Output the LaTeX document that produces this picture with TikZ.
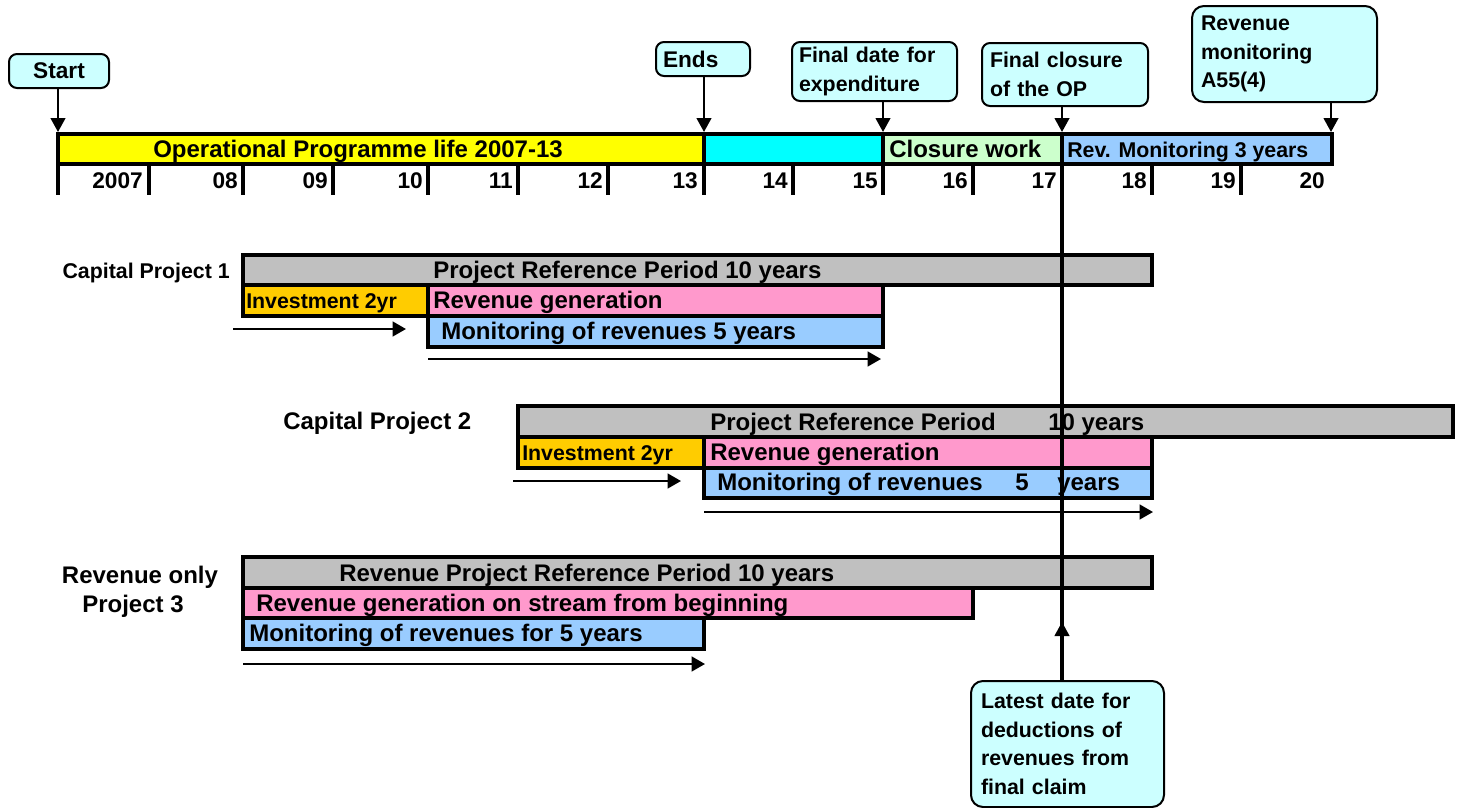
\documentclass[tikz,border=0pt]{standalone}
\usepackage{fontspec}
\setmainfont{Liberation Sans}
\usetikzlibrary{arrows.meta}
\definecolor{opyellow}{HTML}{FFFF00}
\definecolor{opcyan}{HTML}{00FFFF}
\definecolor{opgreen}{HTML}{CCFFCC}
\definecolor{opblue}{HTML}{99CCFF}
\definecolor{opgrey}{HTML}{C0C0C0}
\definecolor{oporange}{HTML}{FFCC00}
\definecolor{oppink}{HTML}{FF99CC}
\definecolor{callfill}{HTML}{CCFFFF}
\newcommand\myfbig{\fontsize{18}{21.6}\selectfont\bfseries}
\newcommand\myfmid{\fontsize{17}{21}\selectfont\bfseries}
\newcommand\myfsmall{\fontsize{16}{21.5}\selectfont\bfseries}
\begin{document}
\begin{tikzpicture}[x=0.75pt,y=-0.75pt,
  bar/.style={draw=black,line width=2.4pt},
  tickline/.style={draw=black,line width=2.4pt},
  txt/.style={inner sep=0pt,text=black},
  callout/.style={draw=black,line width=1.5pt,fill=callfill,rounded corners=6pt,
    anchor=north west,inner ysep=0pt,align=left,font=\myfsmall},
  arr/.style={line width=1.7pt,-{Triangle[length=10.5pt,width=11pt]}},
  smallarr/.style={line width=1.7pt,-{Triangle[length=10pt,width=11pt]}},
  longline/.style={line width=2.4pt}]
\useasboundingbox (0,0) rectangle (1463,807);

% ---------------- top programme bar ----------------
\draw[bar,fill=opyellow] (58,134) rectangle (704,164);
\draw[bar,fill=opcyan] (704,134) rectangle (883,164);
\draw[bar,fill=opgreen] (883,134) rectangle (1062,164);
\draw[bar,fill=opblue] (1062,134) rectangle (1332,164);
\node[txt,anchor=base west,font=\myfbig] (opl) at (153,157) {Operational Programme life 2007-13};
\node[txt,anchor=base west,font=\myfbig] (clw) at (889,157) {Closure work};
\node[txt,anchor=base west,font=\myfsmall] (rmt) at (1067,157) {Rev. Monitoring 3 years};

% year ticks
\foreach \t in {58,149,243,333,428,518,608,704,793,883,973,1152,1241}
  \draw[tickline] (\t,164) -- (\t,195);
% year labels
\foreach \xx/\lab in {143/2007,238/08,328/09,423/10,513/11,603/12,698/13,788/14,878/15,968/16,1057/17,1147/18,1236/19,1325/20}
  \node[txt,anchor=base east,font=\myfmid] at (\xx,188) {\lab};

% target coordinates on the bar
\coordinate (tStart) at (58,132);
\coordinate (tEnds) at (704,132);
\coordinate (tFinal) at (883,132);
\coordinate (tClose) at (1062,132);
\coordinate (tRev) at (1331,132);
\coordinate (tCloseBot) at (1062,163);
\coordinate (tLatest) at (1062,622);

% ---------------- callouts ----------------
\node[callout,align=center,font=\myfmid,text width=64.5pt,inner xsep=5.25pt,minimum height=25.5pt] (start) at (8,53) {Start};
\node[callout,font=\myfmid,text width=60pt,inner xsep=5.25pt,minimum height=25.5pt] (ends) at (655,41) {Ends};
\node[callout,text width=113.25pt,inner xsep=5.25pt,minimum height=44.25pt] (final) at (791,41) {Final date for\\expenditure};
\node[callout,text width=112.5pt,inner xsep=6pt,minimum height=47.25pt] (close) at (981,42) {Final closure\\of the OP};
\node[callout,rounded corners=9pt,text width=125.25pt,inner xsep=6.75pt,minimum height=72pt] (revmon) at (1191,5) {Revenue\\monitoring\\A55(4)};
\node[callout,rounded corners=9pt,text width=129.75pt,inner xsep=7.5pt,minimum height=94.5pt] (latest) at (970,680) {Latest date for\\deductions of\\revenues from\\final claim};

\draw[arr] (start.south -| tStart) -- (tStart);
\draw[arr] (ends.south -| tEnds) -- (tEnds);
\draw[arr] (final.south -| tFinal) -- (tFinal);
\draw[arr] (close.south -| tClose) -- (tClose);
\draw[arr] (revmon.south -| tRev) -- (tRev);

% ---------------- Capital Project 1 ----------------
\node[txt,anchor=base east,font=\myfsmall] (cp1) at (230,278) {Capital Project 1};
\draw[bar,fill=opgrey] (243,255) rectangle (1152,285);
\draw[bar,fill=oporange] (243,285) rectangle (428,316);
\draw[bar,fill=oppink] (428,285) rectangle (883,316);
\draw[bar,fill=opblue] (428,316) rectangle (883,347);
\node[txt,anchor=base west,font=\myfbig] (p1ref) at (433,278) {Project Reference Period 10 years};
\node[txt,anchor=base west,font=\myfsmall] (p1inv) at (246,308) {Investment 2yr};
\node[txt,anchor=base west,font=\myfbig] (p1gen) at (433,308) {Revenue generation};
\node[txt,anchor=base west,font=\myfbig] (p1mon) at (441,339) {Monitoring of revenues 5 years};
\coordinate (a1s) at (233,329); \coordinate (a1e) at (406,329);
\coordinate (a2s) at (428,359); \coordinate (a2e) at (881,359);
\draw[smallarr] (a1s) -- (a1e);
\draw[smallarr] (a2s) -- (a2e);

% ---------------- Capital Project 2 ----------------
\node[txt,anchor=base west,font=\myfbig] (cp2) at (283,429) {Capital Project 2};
\draw[bar,fill=opgrey] (518,406) rectangle (1453,437);
\draw[bar,fill=oporange] (518,437) rectangle (704,468);
\draw[bar,fill=oppink] (704,437) rectangle (1152,468);
\draw[bar,fill=opblue] (704,468) rectangle (1152,498);
\node[txt,anchor=base west,font=\myfbig] (p2ref) at (710,430) {Project Reference Period};
\node[txt,anchor=base west,font=\myfbig] (p2ten) at (1048,430) {10 years};
\node[txt,anchor=base west,font=\myfsmall] (p2inv) at (522,460) {Investment 2yr};
\node[txt,anchor=base west,font=\myfbig] (p2gen) at (710,460) {Revenue generation};
\node[txt,anchor=base west,font=\myfbig] (p2mon) at (717,490) {Monitoring of revenues};
\node[txt,anchor=base west,font=\myfbig] (p2five) at (1015,490) {5};
\node[txt,anchor=base west,font=\myfbig] (p2yrs) at (1057,490) {years};
\coordinate (b1s) at (513,481); \coordinate (b1e) at (681,481);
\coordinate (b2s) at (704,512); \coordinate (b2e) at (1153,512);
\draw[smallarr] (b1s) -- (b1e);
\draw[smallarr] (b2s) -- (b2e);

% ---------------- Revenue only Project 3 ----------------
\node[txt,align=center,font=\myfbig] (cp3) at (140,592) {Revenue only\\Project 3\hspace*{10.5pt}};
\draw[bar,fill=opgrey] (243,557) rectangle (1152,588);
\draw[bar,fill=oppink] (243,588) rectangle (973,618);
\draw[bar,fill=opblue] (243,618) rectangle (704,649);
\node[txt,anchor=base west,font=\myfbig] (p3ref) at (339,581) {Revenue Project Reference Period 10 years};
\node[txt,anchor=base west,font=\myfbig] (p3gen) at (256,611) {Revenue generation on stream from beginning};
\node[txt,anchor=base west,font=\myfbig] (p3mon) at (249,641) {Monitoring of revenues for 5 years};
\coordinate (c1s) at (243,664); \coordinate (c1e) at (705,664);
\draw[smallarr] (c1s) -- (c1e);

% long vertical line from the closure date, drawn over the bars
\draw[longline] (latest.north -| tCloseBot) -- (tCloseBot);
\draw[arr] (latest.north -| tLatest) -- (tLatest);
\end{tikzpicture}
\end{document}
